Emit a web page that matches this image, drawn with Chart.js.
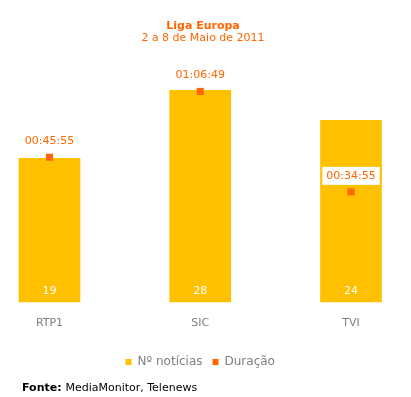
<!DOCTYPE html>
<html>
<head>
<meta charset="utf-8">
<script src="https://cdn.jsdelivr.net/npm/chart.js@4/dist/chart.umd.min.js"></script>
<style>
    html, body { margin: 0; padding: 0; background: #fff; }
    #wrap { position: relative; width: 411px; height: 397px; }
</style>
</head>
<body>
<div id="wrap"><canvas id="chart"></canvas></div>
<script>
// Dados do gráfico
const categories = ['RTP1', 'SIC', 'TVI'];
const noticias = [19, 28, 24];
const duracaoSegundos = [2755, 4009, 2095]; // 00:45:55, 01:06:49, 00:34:55
const chartTitle = 'Liga Europa';
const chartSubtitle = '2 a 8 de Maio de 2011';
const legendLabels = ['Nº notícias', 'Duração'];

const FONT = '"DejaVu Sans", Verdana, sans-serif';
const ORANGE = '#ff6600';
const YELLOW = '#ffc000';

function formatDuration(sec) {
    const h = Math.floor(sec / 3600);
    const m = Math.floor((sec % 3600) / 60);
    const s = sec % 60;
    return [h, m, s].map(v => String(v).padStart(2, '0')).join(':');
}

// Titles, labels and source note
const labelsPlugin = {
    id: 'labelsPlugin',
    afterDatasetsDraw(chart) {
        const ctx = chart.ctx;
        ctx.save();
        ctx.textAlign = 'center';
        ctx.textBaseline = 'middle';

        // bar values at the bottom of each bar
        const barMeta = chart.getDatasetMeta(0);
        ctx.font = '11px ' + FONT;
        ctx.fillStyle = '#ffffff';
        barMeta.data.forEach((bar, i) => {
            ctx.fillText(String(noticias[i]), bar.x, bar.base - 11);
        });

        // duration labels above each point
        const lineMeta = chart.getDatasetMeta(1);
        lineMeta.data.forEach((pt, i) => {
            const text = formatDuration(duracaoSegundos[i]);
            const w = ctx.measureText(text).width + 8;
            const y = pt.y - 16;
            ctx.fillStyle = '#ffffff';
            ctx.fillRect(pt.x - w / 2, y - 9, w, 18);
            ctx.fillStyle = ORANGE;
            ctx.fillText(text, pt.x, y);
        });
        ctx.restore();
    },
    afterDraw(chart) {
        const ctx = chart.ctx;
        ctx.save();
        ctx.textBaseline = 'middle';
        ctx.textAlign = 'center';
        ctx.fillStyle = ORANGE;
        ctx.font = 'bold 11px ' + FONT;
        ctx.fillText(chartTitle, 203, 26);
        ctx.font = '11px ' + FONT;
        ctx.fillText(chartSubtitle, 203, 38);

        // Fonte
        ctx.textAlign = 'left';
        ctx.fillStyle = '#000000';
        ctx.font = 'bold 11px ' + FONT;
        ctx.fillText('Fonte:', 22, 388);
        const fw = ctx.measureText('Fonte: ').width;
        ctx.font = '11px ' + FONT;
        ctx.fillText('MediaMonitor, Telenews', 22 + fw, 388);
        ctx.restore();
    }
};

new Chart(document.getElementById('chart'), {
    data: {
        labels: categories,
        datasets: [
            {
                type: 'bar',
                label: legendLabels[0],
                data: noticias,
                backgroundColor: YELLOW,
                borderWidth: 0,
                barThickness: 61,
                yAxisID: 'y',
                order: 1,
                clip: false
            },
            {
                type: 'line',
                label: legendLabels[1],
                data: duracaoSegundos,
                showLine: false,
                pointStyle: 'rect',
                pointRadius: 5,
                pointHoverRadius: 5,
                pointBorderWidth: 0,
                borderWidth: 0,
                backgroundColor: ORANGE,
                borderColor: ORANGE,
                yAxisID: 'y1',
                order: 0,
                clip: false
            }
        ]
    },
    options: {
        responsive: true,
        maintainAspectRatio: false,
        animation: false,
        layout: {
            padding: { left: 49.5, right: 60, top: 60, bottom: 19 }
        },
        plugins: {
            legend: {
                position: 'bottom',
                labels: {
                    boxWidth: 6,
                    boxHeight: 6,
                    padding: 10,
                    color: '#808080',
                    font: { family: FONT, size: 12 },
                    sort: (a, b) => a.datasetIndex - b.datasetIndex
                }
            },
            tooltip: { enabled: false }
        },
        scales: {
            x: {
                offset: false,
                grid: { display: false },
                border: { display: false },
                ticks: {
                    padding: 7,
                    color: '#808080',
                    font: { family: FONT, size: 11 }
                },
                afterFit: (scale) => { scale.height += 9; }
            },
            y: {
                display: false,
                min: 0,
                max: 32
            },
            y1: {
                display: false,
                min: 0,
                max: 4608
            }
        }
    },
    plugins: [labelsPlugin]
});
</script>
</body>
</html>
